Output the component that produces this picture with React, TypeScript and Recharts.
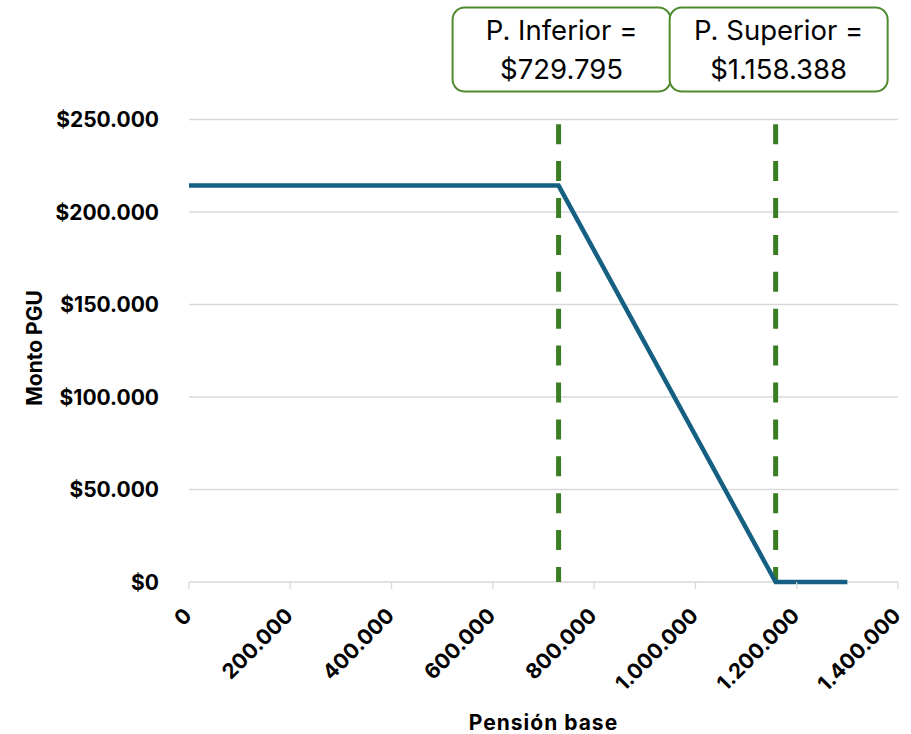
import React from 'react';
import { LineChart, Line, XAxis, YAxis, CartesianGrid, ReferenceLine, Label } from 'recharts';

const pensionBase = [0, 729795, 1158388, 1300000];
const montoPGU = [214296, 214296, 0, 0];
const xTicks = [0, 200000, 400000, 600000, 800000, 1000000, 1200000, 1400000];
const yTicks = [0, 50000, 100000, 150000, 200000, 250000];
const thresholdValues = [729795, 1158388];
const thresholdTitles = ['P. Inferior =', 'P. Superior ='];

const data = pensionBase.map((x, i) => ({ x, y: montoPGU[i] }));

const fmt = (v: number) => String(Math.round(v)).replace(/\B(?=(\d{3})+(?!\d))/g, '.');

const FONT = 'Inter, "Noto Sans", sans-serif';
const GREEN = '#3b7d23';
const BOX_GREEN = '#4e8a30';
const BLUE = '#156082';
const GRID = '#d9d9d9';

const XTick = (props: any) => {
  const { x, y, payload } = props;
  const ax = x + 4;
  const ay = y + 26;
  return (
    <text
      x={ax}
      y={ay}
      textAnchor="end"
      transform={`rotate(-45, ${ax}, ${ay})`}
      fontFamily={FONT}
      fontWeight={700}
      fontSize={21}
      fill="#000"
    >
      {fmt(payload.value)}
    </text>
  );
};

const YTick = (props: any) => {
  const { x, y, payload } = props;
  return (
    <text x={x} y={y} dy="0.36em" textAnchor="end" fontFamily={FONT} fontWeight={700} fontSize={21} fill="#000">
      {'$' + fmt(payload.value)}
    </text>
  );
};

const renderBox = (title: string, value: number) => (props: any) => {
  const vb = props.viewBox || {};
  const cx = vb.x + 3;
  const w = 218;
  const h = 84;
  const top = vb.y - 112;
  return (
    <g>
      <rect x={cx - w / 2} y={top} width={w} height={h} rx={12} ry={12} fill="#fff" stroke={BOX_GREEN} strokeWidth={2} />
      <text x={cx} y={top + 32.5} textAnchor="middle" fontFamily={FONT} fontSize={27.5} fill="#000">
        {title}
      </text>
      <text x={cx} y={top + 71.5} textAnchor="middle" fontFamily={FONT} fontSize={27.5} fill="#000">
        {'$' + fmt(value)}
      </text>
    </g>
  );
};

const renderYTitle = () => (
  <text
    x={41.5}
    y={348}
    textAnchor="middle"
    transform="rotate(-90, 41.5, 348)"
    fontFamily={FONT}
    fontWeight={700}
    fontSize={21}
    fill="#000"
  >
    Monto PGU
  </text>
);

const renderXTitle = () => (
  <text x={543.5} y={730} textAnchor="middle" fontFamily={FONT} fontWeight={700} fontSize={21} letterSpacing={1} fill="#000">
    Pensión base
  </text>
);

export default function App() {
  const yMax = yTicks[yTicks.length - 1];
  return (
    <div style={{ position: 'absolute', left: 0, top: 0, width: 911, height: 734, background: '#fff' }}>
      <LineChart width={911} height={734} data={data} margin={{ top: 119.5, right: 13, left: 0, bottom: 0 }}>
        <CartesianGrid vertical={false} stroke={GRID} strokeWidth={1.3} />
        <XAxis
          type="number"
          dataKey="x"
          domain={[0, xTicks[xTicks.length - 1]]}
          ticks={xTicks}
          interval={0}
          height={152}
          tickSize={7}
          tickMargin={2}
          axisLine={false}
          tickLine={{ stroke: GRID, strokeWidth: 1.3 }}
          tick={<XTick />}
        >
          <Label content={renderXTitle} />
        </XAxis>
        <YAxis
          type="number"
          domain={[0, yMax]}
          ticks={yTicks}
          interval={0}
          width={189}
          axisLine={false}
          tickLine={false}
          tickSize={0}
          tickMargin={30}
          tick={<YTick />}
        >
          <Label content={renderYTitle} />
        </YAxis>
        {thresholdValues.map((v, i) => (
          <ReferenceLine
            key={v}
            segment={[
              { x: v, y: 0 },
              { x: v, y: yMax },
            ]}
            stroke={GREEN}
            strokeWidth={5}
            strokeDasharray="20 16.9"
            strokeDashoffset={5}
            ifOverflow="visible"
            label={renderBox(thresholdTitles[i], v)}
          />
        ))}
        <Line
          type="linear"
          dataKey="y"
          stroke={BLUE}
          strokeWidth={4.5}
          dot={false}
          activeDot={false}
          isAnimationActive={false}
        />
      </LineChart>
    </div>
  );
}
